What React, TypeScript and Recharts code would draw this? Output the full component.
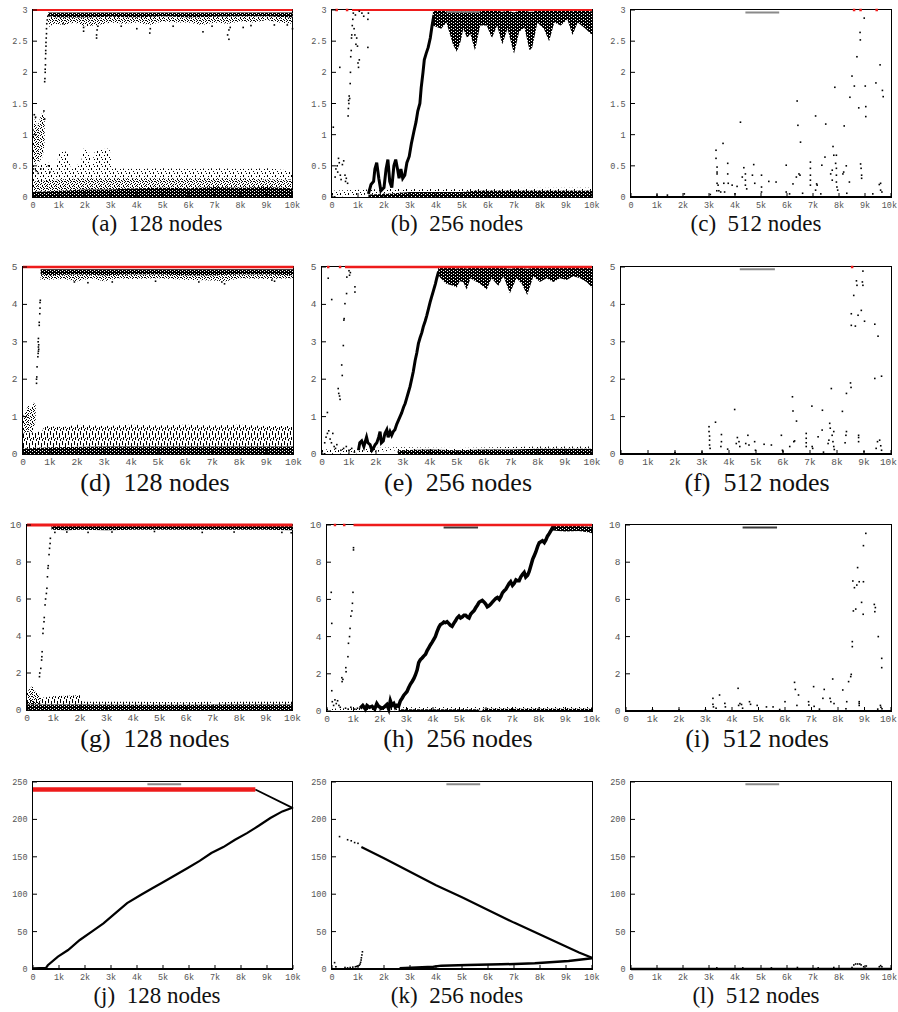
import React from "react";
import { ComposedChart, XAxis, YAxis, Area, Line, Scatter } from "recharts";

type Pt = [number, number];
type Band = [number, number, number]; // x (thousand steps), low, high

const X_TICKS = [0, 1, 2, 3, 4, 5, 6, 7, 8, 9, 10];
const Y_TICKS_3 = [0, 0.5, 1, 1.5, 2, 2.5, 3];
const Y_TICKS_5 = [0, 1, 2, 3, 4, 5];
const Y_TICKS_10 = [0, 2, 4, 6, 8, 10];
const Y_TICKS_250 = [0, 50, 100, 150, 200, 250];

const RED = "#ee1b1b";
const GREY = "#8a8a8a";
const DARK_GREY = "#3a3a3a";

const ZERO_ROW: Pt[] = [[0, 0], [10, 0]];

// ---- (a) 128 nodes, max 3
const A_RED: Pt[] = [[0, 3], [10, 3]];
const A_TOP_DK: Band[] = [[0.58, 2.9, 2.96], [1, 2.88, 2.96], [2, 2.88, 2.96], [3, 2.89, 2.96], [4, 2.88, 2.96], [5, 2.9, 2.96], [6, 2.88, 2.96], [7, 2.89, 2.96], [8, 2.9, 2.96], [9, 2.9, 2.96], [10, 2.88, 2.96]];
const A_TOP_SP: Band[] = [[0.58, 2.72, 2.9], [0.8, 2.78, 2.88], [1.2, 2.76, 2.88], [1.6, 2.8, 2.88], [2, 2.74, 2.88], [2.5, 2.76, 2.88], [3, 2.8, 2.89], [3.5, 2.78, 2.88], [4, 2.8, 2.88], [4.5, 2.76, 2.9], [5, 2.82, 2.9], [5.5, 2.8, 2.88], [6, 2.8, 2.88], [6.5, 2.76, 2.88], [7, 2.8, 2.89], [7.5, 2.78, 2.9], [8, 2.82, 2.9], [8.5, 2.8, 2.9], [9, 2.84, 2.9], [9.5, 2.8, 2.9], [10, 2.78, 2.88]];
const A_DRIPS: Pt[] = [[1.15, 2.78], [1.95, 2.66], [1.95, 2.72], [2.45, 2.55], [2.45, 2.6], [2.47, 2.68], [2.5, 2.74], [3.4, 2.74], [4.0, 2.7], [4.5, 2.63], [4.52, 2.7], [5.4, 2.74], [6.55, 2.65], [6.9, 2.74], [7.5, 2.6], [7.55, 2.53], [7.55, 2.68], [7.6, 2.72], [8.1, 2.72], [8.4, 2.75], [9.3, 2.76], [9.8, 2.76], [10, 2.7]];
const A_RISE: Pt[] = [[0.45, 1.85], [0.46, 1.9], [0.47, 2.0], [0.47, 2.05], [0.48, 2.12], [0.48, 2.22], [0.49, 2.3], [0.49, 2.35], [0.5, 2.42], [0.5, 2.48], [0.51, 2.55], [0.52, 2.62], [0.52, 2.7], [0.53, 2.78], [0.55, 2.84], [0.57, 2.9]];
const A_EARLY: Band[] = [[0, 0.55, 1.02], [0.08, 0.5, 1.3], [0.15, 0.6, 1.1], [0.22, 0.55, 1.2], [0.3, 0.6, 1.3], [0.38, 0.65, 1.38], [0.45, 0.9, 1.3]];
const A_EARLY_PTS: Pt[] = [[0.05, 1.32], [0.1, 1.28], [0.02, 0.45], [0.12, 0.42], [0.2, 0.38], [0.3, 0.45], [0.42, 1.38], [0.45, 1.25], [0.6, 0.5], [0.65, 0.4]];
const A_LOW_DK: Band[] = [[0, 0, 0.08], [1, 0, 0.1], [2, 0, 0.12], [3, 0, 0.12], [4, 0, 0.14], [5, 0, 0.15], [6, 0, 0.14], [7, 0, 0.16], [8, 0, 0.15], [9, 0, 0.16], [10, 0, 0.14]];
const A_LOW_MD: Band[] = [[0, 0.08, 0.25], [1, 0.1, 0.28], [2, 0.12, 0.3], [3, 0.12, 0.3], [4, 0.14, 0.3], [5, 0.15, 0.3], [6, 0.14, 0.3], [7, 0.16, 0.3], [8, 0.15, 0.3], [9, 0.16, 0.28], [10, 0.14, 0.28]];
const A_LOW_SP: Band[] = [[0, 0.25, 0.5], [0.6, 0.25, 0.55], [0.9, 0.28, 0.42], [1.0, 0.28, 0.74], [1.35, 0.28, 0.72], [1.45, 0.28, 0.45], [1.85, 0.3, 0.55], [1.95, 0.3, 0.78], [2.15, 0.3, 0.74], [2.25, 0.3, 0.5], [2.4, 0.3, 0.76], [2.95, 0.3, 0.78], [3.05, 0.3, 0.46], [4, 0.3, 0.45], [5, 0.3, 0.46], [6, 0.3, 0.45], [7, 0.3, 0.46], [8, 0.3, 0.45], [9, 0.28, 0.46], [10, 0.28, 0.42]];

// ---- (b) 256 nodes, max 3
const B_RED: Pt[] = [[0.77, 3], [10, 3]];
const B_RED_DOTS: Pt[] = [[0.18, 3], [0.58, 3]];
const B_GREY: Pt[] = [[4.4, 2.97], [5.7, 2.97]];
const B_EARLY: Pt[] = [[0.05, 1.12], [0.3, 2.08], [0.12, 0.32], [0.15, 0.45], [0.2, 0.5], [0.22, 0.4], [0.25, 0.62], [0.28, 0.55], [0.32, 0.35], [0.35, 0.28], [0.4, 0.52], [0.45, 0.58], [0.5, 0.35], [0.52, 0.25], [0.55, 0.3], [0.6, 0.22], [0.62, 1.3], [0.63, 1.42], [0.64, 1.55], [0.65, 1.5], [0.66, 1.62], [0.68, 1.58], [0.7, 1.82], [0.71, 2.0], [0.72, 2.25], [0.74, 2.35], [0.75, 2.55], [0.76, 2.6], [0.78, 2.75], [0.8, 2.85], [0.82, 2.95], [0.85, 2.7], [0.88, 2.6], [0.9, 2.92], [0.92, 2.45], [0.95, 2.55], [0.98, 2.42], [1.0, 2.15], [1.02, 2.08], [1.05, 2.2], [1.05, 2.98], [1.15, 2.95], [1.22, 2.9], [1.38, 2.4], [1.38, 2.85], [1.4, 2.95]];
const B_TRAJ: Pt[] = [[1.4, 0.05], [1.5, 0.2], [1.6, 0.25], [1.65, 0.45], [1.72, 0.55], [1.8, 0.3], [1.88, 0.1], [2.0, 0.15], [2.08, 0.45], [2.15, 0.6], [2.22, 0.25], [2.3, 0.15], [2.38, 0.5], [2.45, 0.6], [2.52, 0.45], [2.58, 0.3], [2.65, 0.45], [2.72, 0.3], [2.8, 0.35], [2.88, 0.55], [2.97, 0.65], [3.05, 0.85], [3.15, 1.05], [3.23, 1.2], [3.3, 1.38], [3.38, 1.5], [3.43, 1.75], [3.5, 2.0], [3.55, 2.2], [3.62, 2.3], [3.7, 2.4], [3.78, 2.55], [3.85, 2.75], [3.92, 2.92]];
const B_TOP: Band[] = [[3.88, 2.75, 2.98], [4.2, 2.7, 2.99], [4.4, 2.8, 2.99], [4.65, 2.45, 2.99], [4.8, 2.33, 2.97], [4.95, 2.5, 2.99], [5.05, 2.7, 2.99], [5.2, 2.55, 2.99], [5.32, 2.62, 2.99], [5.5, 2.35, 2.97], [5.7, 2.75, 2.99], [5.95, 2.75, 2.99], [6.15, 2.55, 2.99], [6.35, 2.75, 2.99], [6.55, 2.45, 2.97], [6.75, 2.7, 2.99], [7.0, 2.3, 2.96], [7.2, 2.65, 2.99], [7.4, 2.72, 2.99], [7.6, 2.35, 2.97], [7.7, 2.4, 2.97], [7.9, 2.8, 2.99], [8.15, 2.7, 2.99], [8.35, 2.5, 2.99], [8.55, 2.8, 2.99], [8.8, 2.75, 2.99], [9.05, 2.85, 2.99], [9.25, 2.6, 2.98], [9.45, 2.8, 2.99], [9.75, 2.7, 2.99], [9.95, 2.62, 2.98], [10, 2.6, 2.98]];
const B_LOW_DK: Band[] = [[1.4, 0, 0.04], [2, 0, 0.05], [3, 0, 0.08], [4, 0, 0.08], [5, 0, 0.08], [5.5, 0, 0.1], [6, 0, 0.1], [7, 0, 0.1], [8, 0, 0.1], [9, 0, 0.1], [10, 0, 0.1]];
const B_LOW_SP: Band[] = [[0, 0, 0.1], [1.4, 0.04, 0.12], [3, 0.08, 0.14], [10, 0.1, 0.15]];

// ---- (c) 512 nodes, max 3
const C_RED: Pt[] = [[8.58, 3], [8.83, 3], [9.45, 3]];
const C_GREY: Pt[] = [[4.4, 2.96], [5.7, 2.96]];
const C_PTS: Pt[] = [[3.27, 0.75], [3.27, 0.62], [3.31, 0.48], [3.31, 0.4], [3.31, 0.37], [3.31, 0.22], [3.35, 0.19], [3.3, 0.1], [3.38, 0.1], [3.45, 0.08], [3.54, 0.86], [3.57, 0.22], [3.72, 0.54], [3.72, 0.37], [3.74, 0.22], [3.89, 0.19], [4.08, 0.17], [4.21, 1.2], [4.28, 0.32], [4.34, 0.47], [4.4, 0.37], [4.4, 0.27], [4.4, 0.19], [4.45, 0.13], [4.67, 0.35], [4.72, 0.52], [4.76, 0.22], [5.02, 0.35], [5.02, 0.16], [5.02, 0.08], [5.3, 0.25], [5.58, 0.24], [5.97, 0.51], [5.97, 0.08], [6.23, 0.21], [6.36, 0.32], [6.39, 1.54], [6.42, 1.15], [6.46, 0.37], [6.5, 0.35], [6.52, 0.88], [6.9, 0.56], [6.9, 0.46], [6.9, 0.35], [6.9, 0.27], [6.9, 0.19], [7.1, 1.3], [7.14, 0.21], [7.16, 0.19], [7.1, 0.11], [7.34, 0.51], [7.46, 0.64], [7.49, 1.17], [7.68, 0.37], [7.74, 0.43], [7.74, 0.27], [7.77, 0.81], [7.8, 0.67], [7.84, 1.76], [7.87, 0.54], [7.9, 0.67], [7.9, 0.46], [7.9, 0.35], [7.9, 0.24], [7.92, 0.16], [7.95, 0.11], [8.15, 0.37], [8.18, 0.4], [8.2, 1.14], [8.28, 0.5], [8.4, 0.24], [8.42, 1.6], [8.5, 1.94], [8.59, 1.78], [8.69, 2.25], [8.76, 1.43], [8.81, 2.64], [8.82, 2.52], [8.83, 0.53], [8.85, 0.46], [8.87, 0.35], [8.87, 0.3], [8.97, 2.87], [9.01, 1.78], [9.03, 1.45], [9.03, 1.29], [9.42, 1.83], [9.58, 2.12], [9.67, 1.71], [9.7, 1.61], [9.55, 0.2], [9.6, 0.22], [9.6, 0.11], [9.65, 0.08], [1.0, 0.03], [1.4, 0.03], [2.05, 0.05], [3.05, 0.04], [3.6, 0.08], [4.0, 0.05], [6.1, 0.05], [6.6, 0.06], [7.3, 0.05], [8.3, 0.06], [9.3, 0.05]];

// ---- (d) 128 nodes, max 5
const D_RED: Pt[] = [[0, 5], [10, 5]];
const D_TOP_DK: Band[] = [[0.65, 4.8, 4.94], [1, 4.78, 4.94], [2, 4.8, 4.94], [3, 4.78, 4.94], [4, 4.8, 4.94], [5, 4.8, 4.94], [6, 4.78, 4.94], [7, 4.78, 4.94], [8, 4.8, 4.94], [9, 4.8, 4.94], [10, 4.78, 4.94]];
const D_TOP_SP: Band[] = [[0.65, 4.65, 4.8], [1.5, 4.68, 4.78], [2, 4.62, 4.8], [2.5, 4.7, 4.78], [3, 4.62, 4.78], [3.5, 4.7, 4.8], [4, 4.68, 4.8], [5, 4.7, 4.8], [6, 4.66, 4.78], [7, 4.64, 4.78], [7.5, 4.62, 4.78], [8, 4.7, 4.8], [9, 4.68, 4.8], [10, 4.7, 4.78]];
const D_DRIPS: Pt[] = [[1.9, 4.6], [2.4, 4.58], [3.3, 4.6], [4.9, 4.62], [6.5, 4.6], [7.35, 4.6], [7.45, 4.55], [9.2, 4.65], [9.3, 4.62]];
const D_RISE: Pt[] = [[0.5, 1.89], [0.5, 2.0], [0.51, 2.06], [0.52, 2.33], [0.55, 2.6], [0.56, 2.69], [0.57, 2.75], [0.58, 2.8], [0.57, 2.86], [0.58, 2.92], [0.56, 3.0], [0.57, 3.09], [0.6, 3.44], [0.6, 3.52], [0.62, 3.75], [0.63, 3.9], [0.63, 4.05], [0.64, 4.11]];
const D_EARLY: Band[] = [[0, 0.6, 1.0], [0.1, 0.55, 1.15], [0.2, 0.6, 1.3], [0.3, 0.55, 1.2], [0.4, 0.7, 1.38], [0.47, 0.9, 1.3]];
const D_LOW_DK: Band[] = [[0, 0, 0.15], [1, 0, 0.18], [3, 0, 0.2], [5, 0, 0.2], [7, 0, 0.2], [10, 0, 0.2]];
const D_LOW_COL: Band[] = [[0, 0.15, 0.55], [0.7, 0.18, 0.6], [0.8, 0.18, 0.75], [1.5, 0.18, 0.72], [2, 0.2, 0.78], [3, 0.2, 0.75], [4, 0.2, 0.78], [5, 0.2, 0.76], [6, 0.2, 0.78], [7, 0.2, 0.76], [8, 0.2, 0.78], [9, 0.2, 0.75], [10, 0.2, 0.75]];

// ---- (e) 256 nodes, max 5
const E_RED: Pt[] = [[0.85, 5], [10, 5]];
const E_RED_DOTS: Pt[] = [[0.23, 5], [0.67, 5]];
const E_EARLY: Pt[] = [[0.2, 1.11], [0.23, 4.7], [0.36, 4.13], [0.1, 0.3], [0.15, 0.45], [0.2, 0.55], [0.25, 0.62], [0.3, 0.4], [0.35, 0.3], [0.4, 0.55], [0.45, 0.2], [0.5, 0.15], [0.55, 0.25], [0.6, 1.75], [0.62, 1.62], [0.67, 1.46], [0.65, 1.55], [0.73, 2.38], [0.75, 2.1], [0.79, 2.9], [0.81, 3.58], [0.82, 3.62], [0.85, 4.02], [0.91, 4.29], [0.92, 4.73], [1.0, 4.9], [1.05, 4.85], [1.22, 4.47], [1.22, 4.33], [1.02, 4.78], [0.7, 0.1], [0.8, 0.15], [0.9, 0.2], [1.0, 0.1], [1.1, 0.15], [1.2, 0.05]];
const E_TRAJ: Pt[] = [[1.35, 0.1], [1.4, 0.3], [1.47, 0.35], [1.55, 0.2], [1.65, 0.45], [1.7, 0.3], [1.78, 0.25], [1.85, 0.1], [1.9, 0.15], [1.97, 0.25], [2.03, 0.3], [2.1, 0.45], [2.15, 0.6], [2.2, 0.3], [2.27, 0.35], [2.33, 0.55], [2.4, 0.65], [2.45, 0.45], [2.52, 0.6], [2.58, 0.5], [2.64, 0.6], [2.7, 0.65], [2.77, 0.8], [2.83, 0.9], [2.89, 1.0], [2.95, 1.1], [3.02, 1.25], [3.08, 1.35], [3.14, 1.5], [3.2, 1.65], [3.26, 1.8], [3.32, 2.0], [3.38, 2.2], [3.45, 2.5], [3.51, 2.7], [3.57, 2.95], [3.63, 3.1], [3.7, 3.25], [3.75, 3.4], [3.82, 3.55], [3.88, 3.7], [3.95, 3.9], [4.0, 4.05], [4.06, 4.2], [4.12, 4.35], [4.2, 4.55], [4.25, 4.7], [4.32, 4.88]];
const E_TOP: Band[] = [[4.3, 4.8, 4.98], [4.37, 4.72, 4.98], [4.6, 4.55, 4.98], [4.86, 4.5, 4.98], [4.99, 4.45, 4.96], [5.1, 4.62, 4.98], [5.23, 4.6, 4.98], [5.36, 4.4, 4.96], [5.5, 4.7, 4.98], [5.6, 4.65, 4.98], [5.85, 4.55, 4.98], [6.1, 4.4, 4.97], [6.28, 4.7, 4.98], [6.53, 4.5, 4.98], [6.72, 4.75, 4.98], [6.96, 4.3, 4.95], [7.2, 4.7, 4.98], [7.4, 4.55, 4.98], [7.6, 4.25, 4.95], [7.83, 4.75, 4.98], [8.07, 4.6, 4.98], [8.32, 4.7, 4.98], [8.57, 4.6, 4.98], [8.81, 4.7, 4.98], [9.06, 4.65, 4.98], [9.31, 4.75, 4.98], [9.56, 4.7, 4.98], [9.8, 4.6, 4.98], [10, 4.45, 4.96]];
const E_LOW_DK: Band[] = [[2.8, 0, 0.1], [4, 0, 0.12], [5, 0, 0.1], [6, 0, 0.12], [7, 0, 0.12], [8, 0, 0.14], [9, 0, 0.14], [10, 0, 0.14]];
const E_LOW_SP: Band[] = [[0, 0, 0.12], [1.3, 0.02, 0.15], [2.8, 0.1, 0.18], [5, 0.1, 0.16], [8, 0.14, 0.2], [10, 0.14, 0.2]];

// ---- (f) 512 nodes, max 5
const F_RED: Pt[] = [[8.56, 5]];
const F_GREY: Pt[] = [[4.4, 4.94], [5.7, 4.94]];
const F_PTS: Pt[] = [[3.26, 0.73], [3.26, 0.6], [3.28, 0.48], [3.28, 0.37], [3.28, 0.24], [3.3, 0.15], [3.5, 0.85], [3.72, 0.52], [3.72, 0.33], [3.7, 0.2], [3.95, 0.13], [4.21, 1.19], [4.27, 0.28], [4.31, 0.44], [4.37, 0.33], [4.4, 0.2], [4.62, 0.28], [4.7, 0.5], [4.74, 0.24], [4.95, 0.33], [4.98, 0.1], [5.3, 0.26], [5.57, 0.24], [5.94, 0.5], [5.98, 0.1], [6.25, 0.2], [6.35, 1.53], [6.37, 1.15], [6.4, 0.33], [6.43, 0.35], [6.5, 0.88], [6.86, 0.55], [6.86, 0.42], [6.86, 0.3], [6.86, 0.2], [7.07, 1.28], [7.08, 0.2], [7.1, 0.15], [7.3, 0.46], [7.45, 0.64], [7.46, 1.17], [7.67, 0.28], [7.7, 0.37], [7.73, 0.82], [7.75, 0.69], [7.79, 1.75], [7.82, 0.5], [7.85, 0.33], [7.88, 0.6], [7.88, 0.2], [7.9, 0.12], [8.2, 1.14], [8.3, 0.3], [8.33, 0.5], [8.35, 0.6], [8.35, 1.62], [8.5, 1.9], [8.52, 1.78], [8.53, 3.44], [8.53, 3.75], [8.62, 4.24], [8.68, 3.42], [8.72, 4.63], [8.74, 4.51], [8.78, 3.71], [8.8, 0.44], [8.8, 0.5], [8.8, 0.33], [8.9, 3.84], [8.94, 4.6], [8.96, 4.89], [8.96, 4.51], [9.02, 3.55], [9.4, 3.47], [9.52, 3.15], [9.4, 2.02], [9.65, 2.08], [9.45, 0.15], [9.5, 0.33], [9.58, 0.37], [9.62, 0.22], [9.65, 0.1], [2.0, 0.04], [3.0, 0.05], [6.0, 0.06], [7.5, 0.05], [9.0, 0.06]];

// ---- (g) 128 nodes, max 10
const G_RED: Pt[] = [[0, 10], [10, 10]];
const G_TOP_DK: Band[] = [[0.92, 9.75, 9.95], [1.5, 9.72, 9.95], [2, 9.75, 9.95], [3, 9.72, 9.95], [4, 9.75, 9.95], [5, 9.74, 9.95], [6, 9.75, 9.95], [7, 9.74, 9.95], [8, 9.74, 9.95], [9, 9.75, 9.95], [10, 9.72, 9.95]];
const G_DRIPS: Pt[] = [[1.05, 9.6], [1.5, 9.62], [2.3, 9.6], [3.2, 9.62], [4.8, 9.65], [6.6, 9.6], [7.8, 9.62], [9.6, 9.6], [9.95, 9.58]];
const G_RISE: Pt[] = [[0.47, 1.8], [0.48, 2.0], [0.52, 2.25], [0.55, 2.7], [0.56, 2.88], [0.57, 3.15], [0.6, 4.14], [0.61, 4.4], [0.64, 4.77], [0.65, 5.0], [0.68, 5.68], [0.7, 6.0], [0.73, 6.3], [0.75, 6.58], [0.77, 7.2], [0.79, 7.66], [0.8, 7.8], [0.83, 8.4], [0.85, 8.74], [0.87, 9.0], [0.88, 9.28]];
const G_EARLY: Band[] = [[0, 0.3, 0.95], [0.1, 0.3, 1.15], [0.2, 0.3, 1.3], [0.3, 0.3, 1.0], [0.45, 0.3, 0.9], [0.5, 0.3, 0.6]];
const G_LOW_DK: Band[] = [[0, 0, 0.3], [2, 0, 0.3], [4, 0, 0.28], [6, 0, 0.28], [8, 0, 0.3], [10, 0, 0.3]];
const G_LOW_COL: Band[] = [[0, 0.3, 0.5], [0.5, 0.3, 0.65], [1.0, 0.3, 0.75], [2.0, 0.3, 0.8], [2.1, 0.3, 0.45], [4, 0.28, 0.45], [6, 0.28, 0.42], [6.9, 0.28, 0.45], [7, 0.28, 0.3], [7.2, 0.28, 0.42], [8, 0.3, 0.45], [10, 0.3, 0.45]];

// ---- (h) 256 nodes, max 10
const H_RED: Pt[] = [[1.0, 10], [10, 10]];
const H_RED_DOTS: Pt[] = [[0.3, 10], [0.65, 10]];
const H_GREY: Pt[] = [[4.4, 9.87], [5.7, 9.87]];
const H_EARLY: Pt[] = [[0.16, 6.38], [0.18, 4.71], [0.18, 1.09], [0.2, 0.5], [0.25, 0.3], [0.3, 0.6], [0.35, 0.4], [0.4, 0.55], [0.45, 0.3], [0.5, 0.2], [0.56, 1.79], [0.57, 1.58], [0.6, 1.7], [0.71, 2.33], [0.72, 2.11], [0.79, 2.92], [0.81, 3.64], [0.85, 4.0], [0.87, 4.44], [0.9, 5.1], [0.94, 5.38], [0.96, 5.79], [0.98, 6.38], [1.0, 8.66], [1.0, 8.78], [0.7, 0.15], [0.8, 0.1], [0.9, 0.2], [1.05, 0.1], [1.15, 0.15]];
const H_TRAJ: Pt[] = [[1.25, 0.15], [1.35, 0.3], [1.45, 0.1], [1.51, 0.3], [1.6, 0.2], [1.7, 0.25], [1.8, 0.1], [1.88, 0.4], [1.95, 0.25], [2.07, 0.15], [2.15, 0.2], [2.26, 0.35], [2.33, 0.1], [2.39, 0.55], [2.45, 0.3], [2.52, 0.4], [2.58, 0.2], [2.64, 0.3], [2.7, 0.25], [2.77, 0.55], [2.84, 0.7], [2.9, 0.85], [2.96, 0.95], [3.02, 1.05], [3.08, 1.25], [3.15, 1.45], [3.22, 1.6], [3.28, 1.75], [3.34, 1.95], [3.4, 2.2], [3.46, 2.6], [3.52, 2.75], [3.59, 2.85], [3.65, 2.95], [3.72, 3.05], [3.78, 3.25], [3.84, 3.4], [3.9, 3.55], [3.97, 3.7], [4.03, 3.85], [4.09, 4.0], [4.15, 4.25], [4.22, 4.5], [4.28, 4.65], [4.35, 4.7], [4.41, 4.78], [4.47, 4.75], [4.53, 4.8], [4.6, 4.7], [4.66, 4.6], [4.72, 4.55], [4.78, 4.7], [4.85, 4.85], [4.91, 5.0], [4.98, 5.1], [5.04, 5.0], [5.1, 5.05], [5.17, 5.15], [5.23, 5.15], [5.3, 5.05], [5.36, 5.0], [5.42, 5.2], [5.48, 5.3], [5.55, 5.4], [5.61, 5.55], [5.68, 5.7], [5.74, 5.85], [5.8, 5.9], [5.86, 5.95], [5.93, 5.85], [5.99, 5.75], [6.05, 5.6], [6.11, 5.65], [6.18, 5.75], [6.24, 5.85], [6.3, 5.95], [6.37, 6.05], [6.43, 6.1], [6.5, 6.0], [6.56, 6.15], [6.62, 6.35], [6.68, 6.45], [6.75, 6.55], [6.81, 6.7], [6.87, 6.85], [6.93, 6.95], [7.0, 6.75], [7.06, 6.85], [7.13, 7.05], [7.19, 7.0], [7.25, 7.0], [7.31, 7.2], [7.38, 7.35], [7.44, 7.45], [7.5, 7.2], [7.57, 7.3], [7.63, 7.5], [7.7, 7.85], [7.76, 8.15], [7.82, 8.35], [7.88, 8.55], [7.95, 8.85], [8.01, 9.05], [8.07, 9.1], [8.13, 9.15], [8.2, 9.05], [8.26, 9.2], [8.32, 9.4], [8.39, 9.55], [8.45, 9.7], [8.51, 9.85], [8.6, 9.85]];
const H_TOP: Band[] = [[8.5, 9.7, 9.95], [9, 9.65, 9.95], [9.5, 9.68, 9.95], [9.9, 9.6, 9.92], [10, 9.55, 9.9]];
const H_LOW_DK: Band[] = [[2.7, 0, 0.1], [5.7, 0, 0.1], [5.75, 0, 0.02], [5.85, 0, 0.02], [5.9, 0, 0.12], [10, 0, 0.12]];
const H_LOW_SP: Band[] = [[0, 0, 0.12], [2.7, 0.05, 0.2], [10, 0.1, 0.22]];

// ---- (i) 512 nodes, max 10
const I_GREY: Pt[] = [[4.4, 9.87], [5.7, 9.87]];
const I_PTS: Pt[] = [[3.28, 0.68], [3.28, 0.36], [3.3, 0.22], [3.53, 0.86], [3.73, 0.41], [3.75, 0.22], [4.23, 1.22], [4.25, 0.3], [4.3, 0.4], [4.36, 0.35], [4.66, 0.5], [4.7, 0.36], [4.95, 0.3], [5.3, 0.22], [5.55, 0.22], [6.0, 0.5], [6.36, 1.54], [6.39, 1.16], [6.45, 0.3], [6.51, 0.86], [6.89, 0.5], [6.9, 0.32], [7.08, 1.31], [7.1, 0.25], [7.43, 0.68], [7.48, 1.16], [7.7, 0.68], [7.73, 0.5], [7.8, 1.72], [7.85, 0.4], [8.18, 1.13], [8.33, 0.5], [8.4, 1.58], [8.48, 1.85], [8.5, 1.97], [8.54, 3.73], [8.54, 3.46], [8.56, 6.99], [8.58, 5.38], [8.62, 6.63], [8.67, 5.48], [8.71, 6.77], [8.74, 7.71], [8.8, 6.95], [8.89, 5.84], [8.96, 6.95], [8.96, 8.89], [8.95, 5.2], [9.05, 9.55], [8.8, 0.41], [8.8, 0.5], [8.8, 0.3], [9.37, 5.73], [9.39, 5.34], [9.41, 5.56], [9.52, 4.0], [9.65, 2.83], [9.65, 2.33], [9.6, 0.3], [9.62, 0.2], [9.66, 0.12], [1.0, 0.06], [2.0, 0.05], [3.0, 0.06], [3.4, 0.15], [4.4, 0.15], [5.8, 0.08], [7.3, 0.1], [8.3, 0.12], [9.5, 0.1]];

// ---- (j) 128 nodes, max 250
const J_RED: Pt[] = [[0, 240], [8.55, 240]];
const J_FALL: Pt[] = [[8.55, 240], [10, 215]];
const J_RISE: Pt[] = [[0, 1], [0.5, 1.5], [0.57, 5], [0.96, 16.5], [1.35, 25.4], [1.8, 38.8], [2.26, 50], [2.71, 61], [3.17, 74.6], [3.62, 88], [4.14, 99], [4.59, 108], [5.05, 117], [5.5, 126], [5.95, 135], [6.41, 144.6], [6.86, 155], [7.32, 163], [7.77, 172.8], [8.23, 181.7], [8.68, 191.5], [9.13, 201.8], [9.59, 210.7], [10, 216]];
const J_GREY: Pt[] = [[4.4, 247], [5.7, 247]];

// ---- (k) 256 nodes, max 250
const K_FALL_DOTS: Pt[] = [[0.29, 177], [0.6, 172.8], [0.74, 171.4], [0.87, 169], [1.0, 168]];
const K_FALL: Pt[] = [[1.13, 163], [2, 148], [3, 130], [4, 112], [5, 96], [6, 79], [7, 62], [8, 46], [9, 30], [9.5, 22], [10, 15]];
const K_LOW: Pt[] = [[2.6, 1], [3.9, 3], [4.2, 4.5], [5.2, 5.4], [6.5, 6.2], [7.8, 7.6], [9.1, 10.7], [10, 14.3]];
const K_EARLY: Pt[] = [[0.1, 8.5], [0.15, 3], [0.5, 2], [0.6, 1.5], [0.7, 2], [0.8, 2.5], [0.9, 3], [0.95, 3.5], [1.0, 4], [1.05, 5], [1.08, 6.7], [1.1, 9], [1.12, 12], [1.13, 15], [1.15, 18.8], [1.17, 23]];
const K_GREY: Pt[] = [[4.4, 247], [5.7, 247]];

// ---- (l) 512 nodes, max 250
const L_PTS: Pt[] = [[8.5, 2], [8.57, 5.4], [8.64, 6.7], [8.72, 6.7], [8.8, 6.7], [8.85, 5.5], [8.95, 3], [9.05, 4], [9.55, 3], [9.6, 4.5], [9.65, 3], [3.3, 1.5], [4.3, 1.5], [5.4, 1.5], [6.4, 2], [7.2, 1.5], [7.8, 2]];
const L_GREY: Pt[] = [[4.4, 247], [5.7, 247]];

type Layer =
  | { kind: "band"; data: Band[]; fill: string }
  | { kind: "line"; data: Pt[]; color: string; width: number }
  | { kind: "dots"; data: Pt[]; color: string; size: number };

const band = (data: Band[], fill: string): Layer => ({ kind: "band", data, fill: `url(#${fill})` });
const line = (data: Pt[], color = "#000", width = 2): Layer => ({ kind: "line", data, color, width });
const dots = (data: Pt[], color = "#000", size = 1.6): Layer => ({ kind: "dots", data, color, size });

interface PanelSpec {
  tag: string;
  nodes: number;
  box: [number, number, number, number]; // left, right, top, bottom of the plot frame
  yMax: number;
  yTicks: number[];
  tickFs: number;
  capFs: number;
  capX: number;
  capBase: number; // caption baseline
  layers: Layer[];
}

const PANELS: PanelSpec[] = [
  {
    tag: "a", nodes: 128, box: [32.5, 292, 10, 197], yMax: 3, yTicks: Y_TICKS_3, tickFs: 8.5, capFs: 23, capX: 157, capBase: 231,
    layers: [band(A_LOW_SP, "ps"), band(A_LOW_MD, "pm"), band(A_LOW_DK, "pk"), band(A_EARLY, "pm"), band(A_TOP_SP, "pm"), band(A_TOP_DK, "pk"), dots(A_EARLY_PTS), dots(A_RISE), dots(A_DRIPS), line(A_RED, RED, 2)],
  },
  {
    tag: "b", nodes: 256, box: [332, 592, 10, 197], yMax: 3, yTicks: Y_TICKS_3, tickFs: 8.5, capFs: 23, capX: 457, capBase: 231,
    layers: [band(B_LOW_SP, "ps"), band(B_LOW_DK, "pk"), band(B_TOP, "pk"), line(B_TRAJ, "#000", 3), line(B_GREY, GREY, 2), line(B_RED, RED, 2), dots(B_EARLY), dots(B_RED_DOTS, RED, 2.5)],
  },
  {
    tag: "c", nodes: 512, box: [631, 891, 10, 197], yMax: 3, yTicks: Y_TICKS_3, tickFs: 8.5, capFs: 23, capX: 756, capBase: 231,
    layers: [line(ZERO_ROW, "#000", 2), line(C_GREY, GREY, 2), dots(C_PTS), dots(C_RED, RED, 2.5)],
  },
  {
    tag: "d", nodes: 128, box: [22.5, 293, 267, 454], yMax: 5, yTicks: Y_TICKS_5, tickFs: 9.5, capFs: 26, capX: 155, capBase: 491.5,
    layers: [band(D_LOW_COL, "pc"), band(D_LOW_DK, "pk"), band(D_EARLY, "pm"), band(D_TOP_SP, "pm"), band(D_TOP_DK, "pk"), line(D_RED, RED, 2.5), dots(D_RISE), dots(D_DRIPS)],
  },
  {
    tag: "e", nodes: 256, box: [322, 592, 267, 454], yMax: 5, yTicks: Y_TICKS_5, tickFs: 9.5, capFs: 26, capX: 458, capBase: 491.5,
    layers: [band(E_LOW_SP, "ps"), band(E_LOW_DK, "pk"), band(E_TOP, "pk"), line(E_TRAJ, "#000", 3), line(E_RED, RED, 2.5), dots(E_EARLY), dots(E_RED_DOTS, RED, 2.5)],
  },
  {
    tag: "f", nodes: 512, box: [621, 891, 267, 454], yMax: 5, yTicks: Y_TICKS_5, tickFs: 9.5, capFs: 26, capX: 757, capBase: 491.5,
    layers: [line(ZERO_ROW, "#000", 2), line(F_GREY, GREY, 2), dots(F_PTS), dots(F_RED, RED, 2.5)],
  },
  {
    tag: "g", nodes: 128, box: [27, 292.5, 525, 710], yMax: 10, yTicks: Y_TICKS_10, tickFs: 9.5, capFs: 26, capX: 155, capBase: 748,
    layers: [band(G_LOW_COL, "pc"), band(G_LOW_DK, "pk"), band(G_EARLY, "pm"), band(G_TOP_DK, "pk"), line(G_RED, RED, 3), dots(G_RISE), dots(G_DRIPS)],
  },
  {
    tag: "h", nodes: 256, box: [327, 592, 525, 711], yMax: 10, yTicks: Y_TICKS_10, tickFs: 9.5, capFs: 26, capX: 458, capBase: 748,
    layers: [band(H_LOW_SP, "ps"), band(H_LOW_DK, "pk"), band(H_TOP, "pk"), line(H_TRAJ, "#000", 3.5), line(H_GREY, DARK_GREY, 2), line(H_RED, RED, 2.5), dots(H_EARLY), dots(H_RED_DOTS, RED, 2.5)],
  },
  {
    tag: "i", nodes: 512, box: [626, 891, 525, 711], yMax: 10, yTicks: Y_TICKS_10, tickFs: 9.5, capFs: 26, capX: 757, capBase: 748,
    layers: [line(ZERO_ROW, "#000", 2), line(I_GREY, DARK_GREY, 2), dots(I_PTS)],
  },
  {
    tag: "j", nodes: 128, box: [32.5, 292.5, 782, 969], yMax: 250, yTicks: Y_TICKS_250, tickFs: 8.5, capFs: 23, capX: 157, capBase: 1003.5,
    layers: [line(ZERO_ROW, "#000", 2), line(J_RISE, "#000", 2.2), line(J_FALL, "#000", 1.8), line(J_RED, RED, 4.5), line(J_GREY, GREY, 2)],
  },
  {
    tag: "k", nodes: 256, box: [332, 592, 782, 969], yMax: 250, yTicks: Y_TICKS_250, tickFs: 8.5, capFs: 23, capX: 457, capBase: 1003.5,
    layers: [line(ZERO_ROW, "#000", 2), line(K_LOW, "#000", 2.5), line(K_FALL, "#000", 2.2), line(K_GREY, GREY, 2), dots(K_FALL_DOTS), dots(K_EARLY)],
  },
  {
    tag: "l", nodes: 512, box: [631, 891, 782, 969], yMax: 250, yTicks: Y_TICKS_250, tickFs: 8.5, capFs: 23, capX: 756, capBase: 1003.5,
    layers: [line(ZERO_ROW, "#000", 2.5), line(L_GREY, GREY, 2), dots(L_PTS)],
  },
];

const MONO = '"Liberation Mono", "DejaVu Sans Mono", monospace';
const SERIF = '"Liberation Serif", "DejaVu Serif", serif';
const TICK_LEN = 4;
const PAGE_W = 898;
const CAP_W = 220;

function renderLayer(ly: Layer, i: number) {
  if (ly.kind === "band") {
    return (
      <Area key={i} xAxisId="b" yAxisId="l" data={ly.data.map(([x, lo, hi]) => ({ x, r: [lo, hi] }))}
        dataKey="r" type="linear" stroke="none" fill={ly.fill} fillOpacity={1} isAnimationActive={false} />
    );
  }
  const rows = ly.data.map(([x, y]) => ({ x, y }));
  if (ly.kind === "line") {
    return (
      <Line key={i} xAxisId="b" yAxisId="l" data={rows} dataKey="y" type="linear" stroke={ly.color}
        strokeWidth={ly.width} dot={false} isAnimationActive={false} />
    );
  }
  const s = ly.size;
  return (
    <Scatter key={i} xAxisId="b" yAxisId="l" data={rows} dataKey="y" isAnimationActive={false}
      shape={(p: any) => <rect x={p.cx - s / 2} y={p.cy - s / 2} width={s} height={s} fill={ly.color} />} />
  );
}

function Panel({ p }: { p: PanelSpec }) {
  const [l, r, t, b] = p.box;
  const L = 40, T = 6, R = 14, B = 24;
  const w = r - l + L + R;
  const h = b - t + T + B;
  const fs = p.tickFs;
  const originX = l - L;
  // keep the "10k" label inside the page on the right-hand column
  const maxLabelX = PAGE_W - 1 - originX - 0.9 * fs;
  // line box as tall as the font, baseline placed at capBase
  const capTop = p.capBase - p.capFs * 0.8375;
  return (
    <>
      <div style={{ position: "absolute", left: l - 0.75, top: t - 0.75, width: r - l + 1.5, height: b - t + 1.5, border: "1.5px solid #000", boxSizing: "border-box" }} />
      <div style={{ position: "absolute", left: originX, top: t - T }}>
        <ComposedChart width={w} height={h} margin={{ top: T, right: R, bottom: 0, left: 0 }}>
          <XAxis xAxisId="b" type="number" dataKey="x" domain={[0, 10]} ticks={X_TICKS} interval={0} height={B}
            axisLine={false} tickLine={false} tickSize={0} tickMargin={0}
            tick={(q: any) => (
              <g>
                <line x1={q.x} x2={q.x} y1={q.y} y2={q.y - TICK_LEN} stroke="#000" />
                <text x={Math.min(q.x, maxLabelX)} y={q.y + 11} textAnchor="middle" fontSize={fs} fontFamily={MONO} fill="#555">
                  {q.payload.value === 0 ? "0" : `${q.payload.value}k`}
                </text>
              </g>
            )} />
          <XAxis xAxisId="t" orientation="top" type="number" domain={[0, 10]} ticks={X_TICKS} interval={0} height={0}
            axisLine={false} tickLine={false} tickSize={0} tickMargin={0}
            tick={(q: any) => <line x1={q.x} x2={q.x} y1={q.y} y2={q.y + TICK_LEN} stroke="#000" />} />
          <YAxis yAxisId="l" type="number" domain={[0, p.yMax]} ticks={p.yTicks} interval={0} width={L}
            axisLine={false} tickLine={false} tickSize={0} tickMargin={0}
            tick={(q: any) => (
              <g>
                <line x1={q.x} x2={q.x + TICK_LEN} y1={q.y} y2={q.y} stroke="#000" />
                <text x={q.x - 5.5} y={q.y + 3} textAnchor="end" fontSize={fs} fontFamily={MONO} fill="#555">
                  {String(q.payload.value)}
                </text>
              </g>
            )} />
          <YAxis yAxisId="r" orientation="right" type="number" domain={[0, p.yMax]} ticks={p.yTicks} interval={0} width={0}
            axisLine={false} tickLine={false} tickSize={0} tickMargin={0}
            tick={(q: any) => <line x1={q.x} x2={q.x - TICK_LEN} y1={q.y} y2={q.y} stroke="#000" />} />
          {p.layers.map(renderLayer)}
        </ComposedChart>
      </div>
      <div style={{ position: "absolute", left: p.capX - CAP_W / 2, width: CAP_W, top: capTop, textAlign: "center", fontFamily: SERIF, fontSize: p.capFs, lineHeight: `${p.capFs}px`, color: "#111", whiteSpace: "nowrap" }}>
        ({p.tag})<span style={{ marginLeft: p.capFs * 0.5 }}>{p.nodes} nodes</span>
      </div>
    </>
  );
}

// 1px speckle rows for the textures that fill the dense point clouds
const DARK_ROWS = [[0, 1, 3, 5, 6], [2, 4, 5, 7], [0, 1, 3, 6, 7], [1, 2, 4, 5], [0, 3, 4, 6], [1, 2, 5, 7]];
const MID_ROWS = [[0, 4, 7], [2, 5], [0, 3, 6, 8], [1, 5], [3, 7], [0, 2, 6], [4, 8]];
const SPARSE_ROWS = [[0], [0, 5], [], [2], [2, 7], [], [4]];

function Speckle({ id, rows, w }: { id: string; rows: number[][]; w: number }) {
  return (
    <pattern id={id} width={w} height={rows.length} patternUnits="userSpaceOnUse">
      {rows.flatMap((xs, y) => xs.map((x) => <rect key={`${x}-${y}`} x={x} y={y} width={1} height={1} fill="#000" />))}
    </pattern>
  );
}

function Textures() {
  return (
    <svg width={0} height={0} style={{ position: "absolute" }}>
      <defs>
        <pattern id="pk" width={4} height={3} patternUnits="userSpaceOnUse">
          <rect width={4} height={3} fill="#000" />
          <rect x={1} y={1} width={1} height={1} fill="#fff" />
          <rect x={3} y={0} width={1} height={1} fill="#fff" />
        </pattern>
        <Speckle id="pd" rows={DARK_ROWS} w={8} />
        <Speckle id="pm" rows={MID_ROWS} w={9} />
        <Speckle id="ps" rows={SPARSE_ROWS} w={8} />
        <pattern id="pc" width={6} height={10} patternUnits="userSpaceOnUse">
          <rect x={1} y={0} width={1} height={4} fill="#000" />
          <rect x={4} y={2} width={1} height={5} fill="#000" />
          <rect x={2} y={6} width={1} height={3} fill="#000" />
          <rect x={5} y={8} width={1} height={2} fill="#000" />
          <rect x={0} y={7} width={1} height={1} fill="#000" />
        </pattern>
      </defs>
    </svg>
  );
}

export default function App() {
  return (
    <div style={{ position: "absolute", left: 0, top: 0, width: PAGE_W, height: 1012, background: "#fff", overflow: "hidden" }}>
      <Textures />
      {PANELS.map((p) => (
        <Panel key={p.tag} p={p} />
      ))}
    </div>
  );
}
